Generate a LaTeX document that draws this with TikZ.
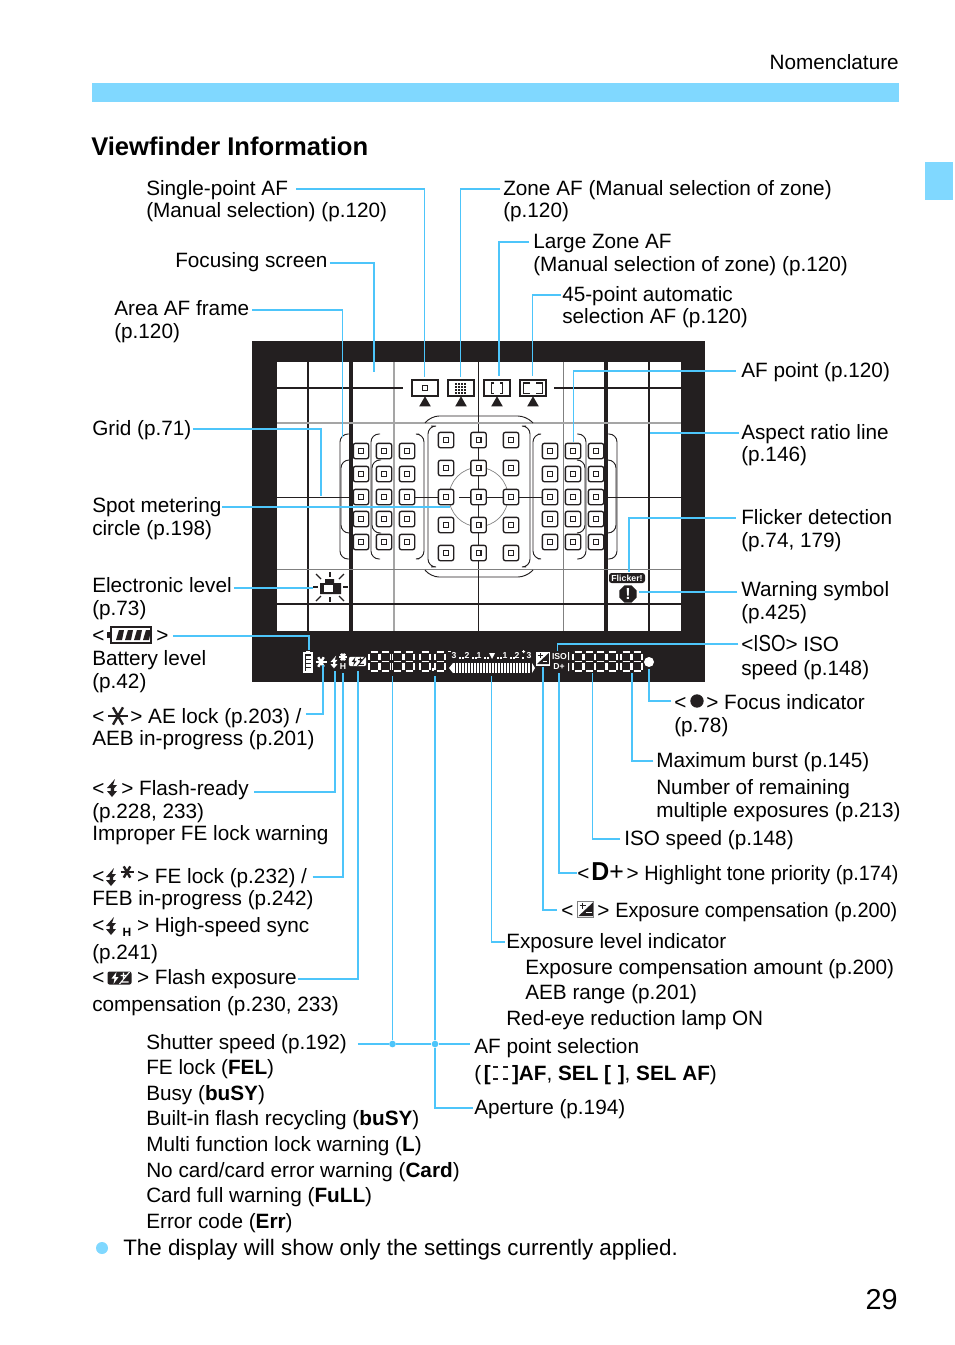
\documentclass[tikz,border=0pt]{standalone}
\usepackage{fontspec}
\usepackage{graphicx}
\setmainfont{Liberation Sans}
\usetikzlibrary{positioning, shapes.geometric, arrows.meta}
\definecolor{bandcolor}{RGB}{128, 216, 255}
\definecolor{leadcolor}{RGB}{77, 197, 250}
\definecolor{framecolor}{RGB}{35, 31, 32}
\definecolor{gridgray}{RGB}{165, 165, 165}

\tikzset{
	flashbolt/.pic={
		\fill (3,-9) -- (-5,0) -- (-1,0) -- (-1.5,3) -- (-5,3) -- (0,9) -- (5,3) -- (2,3) -- (2,0.5) -- (5,-3) -- (1,-3) -- cycle;
	},
	aestar/.pic={
		\foreach \a in {0,60,120} {
			\draw[line width=1.8pt, rotate=\a] (-10,0) -- (10,0);
		}
	}
}
\newcommand{\compicon}[4]{
	\begin{scope}[shift={(#1)}, scale=#4]
		\fill[#2, rounded corners=1.5pt] (-12,-6.5) rectangle (12,6.5);
		\fill[#3] (-3,-6) -- (-8,0.5) -- (-5,0.5) -- (-6,6) -- (-1,-1) -- (-4,-1) -- cycle;
		\draw[#3, line width=0.8pt] (1,-2.5) -- (7,-2.5) (4,-5.5) -- (4,0.5) (2,4) -- (9,4) (0,6) -- (10,-6);
	\end{scope}
}
\newcommand{\expicon}[3]{
	\begin{scope}[shift={(#1)}, scale=#2]
		\fill[white] (-8,-8) rectangle (8,8);
		\fill[framecolor] (8,-7) -- (8,7) -- (-7,7) -- cycle;
		\draw[framecolor, line width=0.8pt] (-6,-3.5) -- (0,-3.5) (-3,-6.5) -- (-3,-0.5);
		\draw[white, line width=0.8pt] (0,3.5) -- (6,3.5);
		\draw[#3, line width=0.4pt] (-8,-8) rectangle (8,8);
	\end{scope}
}

\begin{document}
\begin{tikzpicture}[
	x=0.75pt, y=-0.75pt,
	lbl/.style={
		anchor=west,
		inner sep=0pt,
		text height=10.5pt,
		text depth=1pt,
		font=\fontsize{15.55}{16.5}\selectfont
	},
	leader/.style={draw=leadcolor, line width=0.8pt},
	heavylead/.style={draw=leadcolor, line width=1.3pt},
	afbox/.style={
		rectangle,
		rounded corners=1.5pt,
		minimum size=11.5pt,
		inner sep=0pt,
		draw=framecolor,
		line width=1pt,
		fill=white
	},
	afdot/.style={
		rectangle,
		minimum size=3.6pt,
		inner sep=0pt,
		draw=framecolor,
		line width=0.9pt,
		fill=white
	},
	modebox/.style={
		rectangle,
		minimum width=19pt,
		minimum height=12.5pt,
		inner sep=0pt,
		draw=framecolor,
		line width=1.4pt,
		fill=white
	},
	modemark/.style={
		regular polygon,
		regular polygon sides=3,
		inner sep=0pt,
		minimum size=10pt,
		fill=framecolor
	},
	arcline/.style={draw=framecolor, line width=0.7pt, rounded corners=6pt},
	thickgrid/.style={draw=framecolor, line width=2pt},
	thingrid/.style={draw=framecolor, line width=0.75pt},
	softgrid/.style={draw=gridgray, line width=0.9pt},
	seg/.style={draw=white, line width=0.8pt},
	lcdtxt/.style={text=white, inner sep=0pt, font=\fontsize{6.5}{7}\bfseries\selectfont}
	]
	
	\fill[white] (0,0) rectangle (954,1345);
	\useasboundingbox (0,0) rectangle (954,1345);
	
	% page furniture
	\fill[bandcolor] (92,83) rectangle (899,102);
	\fill[bandcolor] (925,162) rectangle (953,200);
	\node[lbl, anchor=east] (chapter) at (899,63) {Nomenclature};
	\node[lbl, font=\fontsize{19.2}{21}\bfseries\selectfont] (title) at (91,149) {Viewfinder Information};
	\node[circle, fill=bandcolor, minimum size=9pt, inner sep=0pt] (bullet) at (102,1248) {};
	\node[lbl, font=\fontsize{16.78}{18}\selectfont] (note) at (123,1249) {The display will show only the settings currently applied.};
	\node[lbl, anchor=east, font=\fontsize{21.6}{24}\selectfont] (pageno) at (898,1303) {29};
	
	% viewfinder
	\fill[framecolor] (252,341) rectangle (705,682);
	\fill[white] (277,362) rectangle (681,631);
	\draw[thickgrid] (308,362) -- (308,631);
	\draw[thickgrid, line width=2.3pt] (351,362) -- (351,631);
	\draw[softgrid] (394,362) -- (394,631);
	\draw[thingrid] (478.5,362) -- (478.5,631);
	\draw[thingrid, draw=gray] (563,362) -- (563,631);
	\draw[thickgrid, line width=2.3pt] (606,362) -- (606,631);
	\draw[thickgrid] (649,362) -- (649,631);
	\draw[thickgrid] (277,388) -- (403,388);
	\draw[thickgrid] (554,388) -- (681,388);
	\draw[softgrid] (277,423) -- (681,423);
	\draw[thingrid] (277,497) -- (353,497) (415,497) -- (438,497) (459,497) -- (470,497) (487,497) -- (503,497) (519,497) -- (542,497) (604,497) -- (681,497);
	\draw[thingrid, draw=gray] (277,569) -- (681,569);
	\draw[thickgrid, line width=1.6pt] (277,604) -- (681,604);
	\draw[draw=gray, line width=0.5pt] (478.5,497) circle[radius=29.5];
	
	% area frames
	\draw[arcline] (350,434) -- (340,434) -- (340,559) -- (350,559);
	\draw[arcline] (350,460) -- (341,460) -- (341,533) -- (350,533);
	\draw[arcline] (380,434) -- (371,434) -- (371,559) -- (380,559);
	\draw[arcline] (381,460) -- (372,460) -- (372,533) -- (381,533);
	\draw[arcline] (419,434) -- (424,434) -- (424,559) -- (419,559);
	\draw[arcline] (538,434) -- (533,434) -- (533,559) -- (538,559);
	\draw[arcline] (577,434) -- (586,434) -- (586,559) -- (577,559);
	\draw[arcline] (577,460) -- (585,460) -- (585,533) -- (577,533);
	\draw[arcline] (606,434) -- (617,434) -- (617,559) -- (606,559);
	\draw[arcline] (606,460) -- (616,460) -- (616,533) -- (606,533);
	\draw[arcline] (425,423) -- (431,416) -- (526,416) -- (533,423);
	\draw[arcline] (425,570) -- (431,577) -- (526,577) -- (533,570);
	\draw[arcline] (431,426) -- (428,426) -- (428,567) -- (431,567);
	\draw[arcline] (526,426) -- (530,426) -- (530,567) -- (526,567);
	
	% AF points
	\foreach \cx in {361,384,407,550,573,596} {
		\foreach \cy in {451,474,497,519,542} {
			\node[afbox] (af\cx-\cy) at (\cx,\cy) {};
			\node[afdot] (dot\cx-\cy) at (\cx,\cy) {};
		}
	}
	\foreach \cx in {446,478.5,511} {
		\foreach \cy in {440,468,497,525,553} {
			\node[afbox] (af\cx-\cy) at (\cx,\cy) {};
			\node[afdot] (dot\cx-\cy) at (\cx,\cy) {};
		}
	}
	
	% selection mode boxes
	\foreach \mx/\mname in {425/modeSingle,461/modeZone,497/modeLarge,533/modeAuto} {
		\node[modebox] (\mname) at (\mx,388) {};
		\node[modemark] (\mname Arrow) at (\mx,403) {};
	}
	\node[afdot] (modeSingleDot) at (425,388) {};
	\foreach \gx in {456,459,462,465} {
		\foreach \gy in {384,387,390,393} {
			\fill[framecolor] (\gx-1,\gy-1) rectangle (\gx+1,\gy+1);
		}
	}
	\draw[framecolor, line width=1.2pt] (494,383) -- (491.5,383) -- (491.5,393.5) -- (494,393.5);
	\draw[framecolor, line width=1.2pt] (500,383) -- (502.5,383) -- (502.5,393.5) -- (500,393.5);
	\draw[framecolor, line width=1.2pt] (530,383) -- (523.5,383) -- (523.5,393.5) -- (530,393.5);
	\draw[framecolor, line width=1.2pt] (536,383) -- (542.5,383) -- (542.5,393.5) -- (536,393.5);
	
	% electronic level and warnings
	\fill[framecolor] (320,583) -- (325,583) -- (325,579) -- (334,579) -- (334,583) -- (341,583) -- (341,594) -- (320,594) -- cycle;
	\fill[white] (324,585) rectangle (333,592);
	\foreach \rx/\ry/\sx/\sy in {330/572/330/577,343/587/348/587,313/587/318/587,330/597/330/602,316/574/321/579,344/574/339/579,316/601/321/596,344/601/339/596} {
		\draw[framecolor, line width=0.9pt] (\rx,\ry) -- (\sx,\sy);
	}
	\node[rectangle, rounded corners=2pt, fill=framecolor, text=white, minimum width=27pt, minimum height=7.5pt, inner sep=0pt, font=\fontsize{6.6}{7}\bfseries\selectfont] (flickerTag) at (627,578) {Flicker!};
	\node[regular polygon, regular polygon sides=8, fill=framecolor, text=white, minimum size=14pt, inner sep=0pt, font=\fontsize{12}{12}\bfseries\selectfont] (warnSign) at (628,594) {!};
	
	% lcd row
	\draw[white, line width=0.8pt] (304,653) rectangle (312,672);
	\fill[white] (306,651) rectangle (310,653);
	\foreach \by in {656,660,664,668} {
		\fill[white] (305.5,\by) rectangle (310.5,\by+2.5);
	}
	\pic[white, scale=0.55] at (321,662) {aestar};
	\pic[white, scale=0.7] at (334,662) {flashbolt};
	\pic[white, scale=0.38] at (343,657) {aestar};
	\node[lcdtxt] (lcdH) at (343,667) {H};
	\compicon{357.5,661.5}{white}{framecolor}{0.72}
	\foreach \dx in {369,380.7,392.4,404,420,435,573,584.3,595.6,607,621,632} {
		\draw[seg] (\dx+1.5,652) -- (\dx+8.5,652) (\dx+1.5,661.5) -- (\dx+8.5,661.5) (\dx+1.5,671) -- (\dx+8.5,671);
		\draw[seg] (\dx,653.5) -- (\dx,660) (\dx+10,653.5) -- (\dx+10,660) (\dx,663) -- (\dx,669.5) (\dx+10,663) -- (\dx+10,669.5);
	}
	\fill[white] (431.5,668) rectangle (434,670.5);
	\foreach \sx/\sd in {454/3,467/2,479/1,505/1,517/2,529/3} {
		\node[lcdtxt] (scale\sx) at (\sx,655.5) {\sd};
	}
	\fill[white] (448,651) rectangle (451,652);
	\fill[white] (522,651) rectangle (525,652) (523,650) rectangle (524,653);
	\fill[white] (489,653) -- (495,653) -- (492,659) -- cycle;
	\foreach \tx in {459,462,472,475,484,487,497,500,510,513,522} {
		\fill[white] (\tx,656.5) rectangle (\tx+1.6,659);
	}
	\foreach \bx in {453,456,...,530} {
		\fill[white] (\bx,663) rectangle (\bx+2,673);
	}
	\fill[white] (453,663) -- (449,668) -- (453,673) -- cycle;
	\fill[white] (532,663) -- (535,668) -- (532,673) -- cycle;
	\expicon{542.5,658.5}{0.8}{white}
	\node[lcdtxt] (lcdIso) at (559.5,656.5) {ISO};
	\node[lcdtxt] (lcdDplus) at (559,667) {D+};
	\fill[white] (568,652) rectangle (569,660) (568,663) rectangle (569,671);
	\node[circle, fill=white, minimum size=7.5pt, inner sep=0pt] (focusLed) at (649,662) {};
	
	% labels, left column
	\node[lbl] (single) at (146,189) {Single-point AF};
	\node[lbl] (singleB) at (146,211) {(Manual selection) (p.120)};
	\node[lbl] (screen) at (175,261) {Focusing screen};
	\node[lbl] (area) at (114,309) {Area AF frame};
	\node[lbl] (areaB) at (114,332) {(p.120)};
	\node[lbl] (grid) at (92,429) {Grid (p.71)};
	\node[lbl] (spot) at (92,506) {Spot metering};
	\node[lbl] (spotB) at (92,529) {circle (p.198)};
	\node[lbl] (level) at (92,586) {Electronic level};
	\node[lbl] (levelB) at (92,609) {(p.73)};
	\node[lbl] (battery) at (92,636) {<\hspace{39pt}>};
	\node[lbl] (batteryB) at (92,659) {Battery level};
	\node[lbl] (batteryC) at (92,682) {(p.42)};
	\node[lbl] (aelock) at (92,717) {<\hspace{19.5pt}> AE lock (p.203) /};
	\node[lbl] (aelockB) at (92,739) {AEB in-progress (p.201)};
	\node[lbl] (ready) at (92,789) {<\hspace{12.7pt}> Flash-ready};
	\node[lbl] (readyB) at (92,812) {(p.228, 233)};
	\node[lbl] (readyC) at (92,834) {Improper FE lock warning};
	\node[lbl] (felock) at (92,877) {<\hspace{24.5pt}> FE lock (p.232) /};
	\node[lbl] (felockB) at (92,899) {FEB in-progress (p.242)};
	\node[lbl] (hisync) at (92,926) {<\hspace{24.5pt}> High-speed sync};
	\node[lbl] (hisyncB) at (92,953) {(p.241)};
	\node[lbl] (flashcomp) at (92,978) {<\hspace{24.5pt}> Flash exposure};
	\node[lbl] (flashcompB) at (92,1005) {compensation (p.230, 233)};
	
	% labels, lower block
	\node[lbl] (shutter) at (146,1043) {Shutter speed (p.192)};
	\node[lbl] (fel) at (146,1068) {FE lock (\textbf{FEL})};
	\node[lbl] (busy) at (146,1094) {Busy (\textbf{buSY})};
	\node[lbl] (recycle) at (146,1119) {Built-in flash recycling (\textbf{buSY})};
	\node[lbl] (multi) at (146,1145) {Multi function lock warning (\textbf{L})};
	\node[lbl] (nocard) at (146,1171) {No card/card error warning (\textbf{Card})};
	\node[lbl] (cardfull) at (146,1196) {Card full warning (\textbf{FuLL})};
	\node[lbl] (errcode) at (146,1222) {Error code (\textbf{Err})};
	
	% labels, top and right
	\node[lbl] (zone) at (503,189) {Zone AF (Manual selection of zone)};
	\node[lbl] (zoneB) at (503,211) {(p.120)};
	\node[lbl] (large) at (533,242) {Large Zone AF};
	\node[lbl] (largeB) at (533,265) {(Manual selection of zone) (p.120)};
	\node[lbl] (auto) at (562,295) {45-point automatic};
	\node[lbl] (autoB) at (562,317) {selection AF (p.120)};
	\node[lbl] (afpoint) at (741,371) {AF point (p.120)};
	\node[lbl] (aspect) at (741,433) {Aspect ratio line};
	\node[lbl] (aspectB) at (741,455) {(p.146)};
	\node[lbl] (flicker) at (741,518) {Flicker detection};
	\node[lbl] (flickerB) at (741,541) {(p.74, 179)};
	\node[lbl] (warn) at (741,590) {Warning symbol};
	\node[lbl] (warnB) at (741,613) {(p.425)};
	\node[lbl] (iso) at (741,645) {<\scalebox{0.9}[1.12]{ISO}> ISO};
	\node[lbl] (isoB) at (741,669) {speed (p.148)};
	\node[lbl] (focus) at (674,703) {<\hspace{15pt}> Focus indicator};
	\node[lbl] (focusB) at (674,726) {(p.78)};
	\node[lbl] (burst) at (656,761) {Maximum burst (p.145)};
	\node[lbl] (remain) at (656,788) {Number of remaining};
	\node[lbl] (remainB) at (656,811) {multiple exposures (p.213)};
	\node[lbl] (isospeed) at (624,839) {ISO speed (p.148)};
	\node[lbl] (tone) at (577,874) {<\hspace{1.5pt}\scalebox{1.2}[1.25]{\textbf{D}+}\hspace{2pt}> \scalebox{0.955}[1]{Highlight tone priority (p.174)}};
	\node[lbl] (expcomp) at (561,911) {<\hspace{18pt}> \scalebox{0.96}[1]{Exposure compensation (p.200)}};
	\node[lbl] (explevel) at (506,942) {Exposure level indicator};
	\node[lbl] (expamount) at (525,968) {Exposure compensation amount (p.200)};
	\node[lbl] (aeb) at (525,993) {AEB range (p.201)};
	\node[lbl] (redeye) at (506,1019) {Red-eye reduction lamp ON};
	\node[lbl] (afsel) at (474,1047) {AF point selection};
	\node[lbl] (afselB) at (474,1074) {(\hspace{2pt}\textbf{[}\hspace{16pt}\textbf{]AF}, \textbf{SEL [\hspace{5pt}]}, \textbf{SEL AF})};
	\node[lbl] (aperture) at (474,1108) {Aperture (p.194)};
	
	% glyphs set in the running text
	\draw[framecolor, line width=1.1pt] (111,627) rectangle (151,643);
	\fill[framecolor] (107,632) rectangle (111,638);
	\foreach \qx in {116,125,134,143} {
		\fill[framecolor] (\qx,640) -- (\qx+3,630) -- (\qx+8,630) -- (\qx+6,640) -- cycle;
	}
	\pic[framecolor] at (118,716) {aestar};
	\pic[framecolor] at (112,788) {flashbolt};
	\pic[framecolor] at (111,877) {flashbolt};
	\pic[framecolor, scale=0.65] at (127,872) {aestar};
	\pic[framecolor] at (111,926) {flashbolt};
	\node[inner sep=0pt, font=\fontsize{9}{9}\bfseries\selectfont] (subH) at (127,932) {H};
	\compicon{119.5,978}{framecolor}{white}{1}
	\node[circle, fill=framecolor, minimum size=10pt, inner sep=0pt] (focusGlyph) at (697,701) {};
	\expicon{585.5,909}{1}{gray}
	\draw[framecolor, line width=1pt] (493,1067) -- (498,1067) (503,1067) -- (508,1067) (493,1079) -- (498,1079) (503,1079) -- (508,1079);
	
	% connector ends in the viewfinder
	\coordinate (tipSingle) at (424.5,377);
	\coordinate (tipZone) at (460.5,377);
	\coordinate (tipLarge) at (499,376);
	\coordinate (tipAuto) at (532.5,376);
	\coordinate (tipScreen) at (374,372);
	\coordinate (tipArea) at (342.5,437);
	\coordinate (tipGrid) at (321,496);
	\coordinate (tipSpot) at (450,507);
	\coordinate (tipLevel) at (313,588);
	\coordinate (tipBattery) at (309,650);
	\coordinate (tipAe) at (323,665);
	\coordinate (tipReady) at (335,671);
	\coordinate (tipFe) at (343,673);
	\coordinate (tipComp) at (358,671);
	\coordinate (tipShutter) at (392.5,676);
	\coordinate (tipAperture) at (435,676);
	\coordinate (tipExpLevel) at (491.5,676);
	\coordinate (tipExpComp) at (543,667);
	\coordinate (tipTone) at (559,673);
	\coordinate (tipIsoSpeed) at (592.5,673);
	\coordinate (tipBurst) at (632,673);
	\coordinate (tipFocus) at (649,669);
	\coordinate (tipIso) at (557.5,651);
	\coordinate (tipWarn) at (639,592);
	\coordinate (tipFlicker) at (629,572);
	\coordinate (tipAspect) at (650,433);
	\coordinate (tipAf) at (573.5,442);
	
	\draw[leader] ([xshift=6pt]single.east) -| (tipSingle);
	\draw[leader] ([xshift=-2pt]zone.west) -| (tipZone);
	\draw[leader] ([xshift=-3pt]large.west) -| (tipLarge);
	\draw[leader] ([xshift=-1pt]auto.west) -| (tipAuto);
	\draw[leader] ([shift={(1.5pt,-1.5pt)}]screen.east) -| (tipScreen);
	\draw[leader] ([shift={(2pt,-0.75pt)}]area.east) -| (tipArea);
	\draw[heavylead] ([xshift=1pt]grid.east) -| (tipGrid);
	\draw[leader] ([shift={(0.5pt,-0.75pt)}]spot.east) -- ([yshift=-0.75pt]spot.east -| tipSpot);
	\draw[heavylead] ([shift={(1.5pt,-1.5pt)}]level.east) -| (tipLevel);
	\draw[leader] ([xshift=3pt]battery.east) -| (tipBattery);
	\draw[heavylead] ([shift={(3pt,2.25pt)}]aelock.east) -| (tipAe);
	\draw[heavylead] ([shift={(4pt,-2pt)}]ready.east) -| (tipReady);
	\draw[leader] ([xshift=4pt]felock.east) -| (tipFe);
	\draw[leader] ([shift={(0.5pt,-0.75pt)}]flashcomp.east) -| (tipComp);
	
	\node[circle, fill=leadcolor, minimum size=5pt, inner sep=0pt] (junctionA) at (392.5,1044) {};
	\node[circle, fill=leadcolor, minimum size=5pt, inner sep=0pt] (junctionB) at (435,1044) {};
	\draw[leader] ([xshift=8pt]shutter.east |- junctionA) -- (junctionA) -- (junctionB) -- ([xshift=-3pt]afsel.west |- junctionB);
	\draw[leader] (tipShutter) -- (junctionA);
	\draw[leader] (tipAperture) -- (junctionB);
	\draw[heavylead] (junctionB) |- ([xshift=-1pt]aperture.west);
	
	\draw[leader] ([xshift=-1pt]explevel.west) -| (tipExpLevel);
	\draw[heavylead] ([shift={(-3pt,0.75pt)}]expcomp.west) -| (tipExpComp);
	\draw[leader] ([yshift=0.75pt]tone.west) -| (tipTone);
	\draw[leader] ([xshift=-3pt]isospeed.west) -| (tipIsoSpeed);
	\draw[heavylead] ([xshift=-2pt]burst.west) -| (tipBurst);
	\draw[leader] ([shift={(-2pt,1.5pt)}]focus.west) -| (tipFocus);
	\draw[leader] ([shift={(-2pt,0.75pt)}]iso.west) -| (tipIso);
	\draw[heavylead] ([shift={(-3pt,-1.5pt)}]warn.west) -| (tipWarn);
	\draw[leader] ([xshift=-4pt]flicker.west) -| (tipFlicker);
	\draw[leader] ([xshift=-1.5pt]aspect.west) -- (aspect.west -| tipAspect);
	\draw[leader] ([xshift=-4pt]afpoint.west) -| (tipAf);
	
\end{tikzpicture}
\end{document}
